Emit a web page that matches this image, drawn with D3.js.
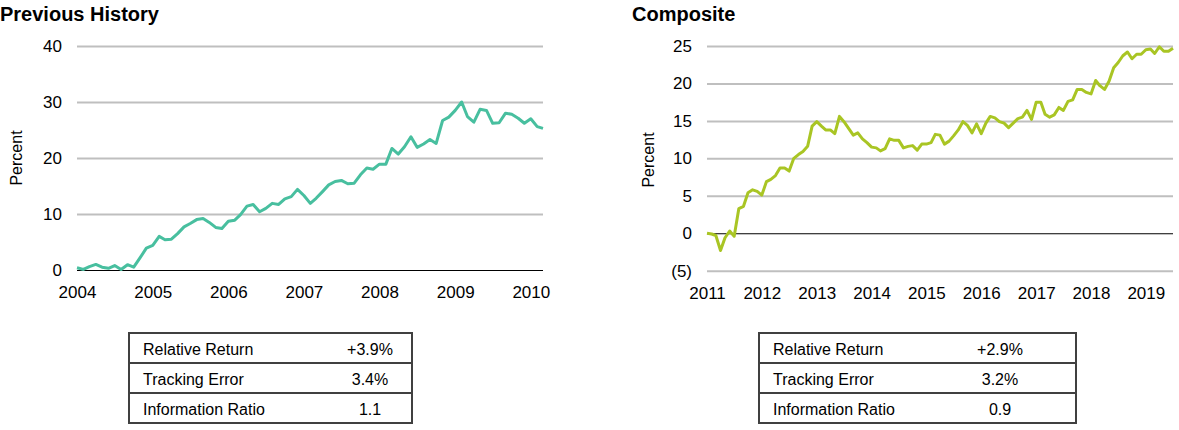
<!DOCTYPE html>
<html>
<head>
<meta charset="utf-8">
<script src="https://cdn.jsdelivr.net/npm/d3@7"></script>
<style>
  body { margin: 0; background: #fff; }
  svg { font-family: Arial, 'Liberation Sans', sans-serif; }
  .title { font-size: 20px; font-weight: bold; }
  .axis text { font-size: 17px; fill: #000; }
  .y-label { font-size: 16px; }
  .stat { font-size: 16px; }
</style>
</head>
<body>
<svg width="1179" height="430"></svg>
<script>
(function(d3) {
  'use strict';

  // Previous History, monthly from Jan 2004 to Mar 2010 (percent).
  const historyValues = [
    0.4, 0.1, 0.6, 1.0, 0.5, 0.3, 0.8, 0.1, 0.95, 0.5, 2.2, 3.9,
    4.4, 6.0, 5.4, 5.5, 6.5, 7.7, 8.3, 9.0, 9.2, 8.5, 7.6, 7.4,
    8.7, 8.9, 9.9, 11.4, 11.7, 10.4, 11.0, 11.9, 11.7, 12.7, 13.1, 14.4,
    13.3, 11.9, 12.8, 14.0, 15.2, 15.8, 16.0, 15.4, 15.5, 17.0, 18.2, 18.0,
    18.9, 18.9, 21.7, 20.7, 22.0, 23.8, 21.9, 22.5, 23.3, 22.6, 26.7, 27.3,
    28.5, 30.0, 27.4, 26.4, 28.7, 28.5, 26.2, 26.3, 28.0, 27.8, 27.1, 26.2,
    27.0, 25.6, 25.3,
  ];

  // Composite, monthly from Jan 2011 to Jul 2019 (percent).
  const compositeValues = [
    0.0, -0.1, -0.3, -2.3, -0.6, 0.3, -0.4, 3.3, 3.6, 5.4, 5.8, 5.6,
    5.1, 6.9, 7.2, 7.7, 8.7, 8.7, 8.3, 10.0, 10.5, 10.9, 11.6, 14.3,
    14.9, 14.3, 13.8, 13.8, 13.3, 15.6, 14.9, 14.0, 13.1, 13.4, 12.6, 12.1,
    11.5, 11.4, 11.0, 11.3, 12.6, 12.4, 12.4, 11.4, 11.6, 11.7, 11.1, 11.9,
    11.9, 12.1, 13.2, 13.1, 11.9, 12.3, 13.0, 13.8, 14.9, 14.4, 13.4, 14.6,
    13.3, 14.7, 15.6, 15.4, 14.9, 14.7, 14.1, 14.7, 15.3, 15.5, 16.4, 15.2,
    17.5, 17.5, 15.9, 15.5, 15.8, 16.8, 16.4, 17.6, 17.8, 19.2, 19.2, 18.8,
    18.6, 20.4, 19.7, 19.2, 20.3, 22.1, 22.8, 23.7, 24.2, 23.3, 23.9, 23.9,
    24.5, 24.6, 24.0, 24.9, 24.3, 24.3, 24.7,
  ];

  const historyYears = [2004, 2005, 2006, 2007, 2008, 2009, 2010];
  const compositeYears = [2011, 2012, 2013, 2014, 2015, 2016, 2017, 2018, 2019];
  const historyYTicks = [0, 10, 20, 30, 40];
  const compositeYTicks = [-5, 0, 5, 10, 15, 20, 25];

  const statLabels = ['Relative Return', 'Tracking Error', 'Information Ratio'];
  const historyStats = ['+3.9%', '3.4%', '1.1'];
  const compositeStats = ['+2.9%', '3.2%', '0.9'];

  const svg = d3.select('svg');

  function toSeries(startYear, values) {
    return values.map(function(v, i) {
      return {date: new Date(startYear, i, 1), value: v};
    });
  }

  // Negative numbers shown in accounting style, e.g. (5)
  function yFormat(d) {
    return d < 0 ? '(' + Math.abs(d) + ')' : d;
  }

  function render(opts) {
    const data = toSeries(opts.years[0], opts.values);
    const g = svg.append('g');

    const xScale = d3.scaleTime().
        domain(d3.extent(data, function(d) {
          return d.date;
        })).
        range([opts.left, opts.right]);
    const yScale = d3.scaleLinear().
        domain(d3.extent(opts.yTicks)).
        range([opts.bottom, opts.top]);

    g.append('text').
        attr('class', 'title').
        attr('x', opts.titleX).
        attr('y', 21).
        text(opts.title);

    // Gridlines + y tick labels
    const yAxisG = g.append('g').
        attr('class', 'axis').
        attr('transform', `translate(${opts.left},0)`).
        call(d3.axisLeft(yScale).
            tickValues(opts.yTicks).
            tickSize(-(opts.right - opts.left)).
            tickPadding(15).
            tickFormat(yFormat));
    yAxisG.select('.domain').remove();
    yAxisG.selectAll('.tick line').
        attr('stroke', function(d) {
          return d === 0 ? '#000' : '#bfbfbf';
        }).
        attr('stroke-width', function(d) {
          return d === 0 ? 1 : 2;
        });
    // keep the zero line on top of the gray ones
    yAxisG.selectAll('.tick').filter(function(d) {
      return d === 0;
    }).raise();

    g.append('text').
        attr('class', 'y-label').
        attr('transform', `translate(${opts.labelX},${opts.labelY}) rotate(-90)`).
        attr('text-anchor', 'middle').
        text('Percent');

    const xAxisG = g.append('g').
        attr('class', 'axis').
        attr('transform', `translate(0,${opts.bottom})`).
        call(d3.axisBottom(xScale).
            tickValues(opts.years.map(function(y) {
              return new Date(y, 0, 1);
            })).
            tickSize(0).
            tickPadding(16).
            tickFormat(d3.timeFormat('%Y')));
    xAxisG.select('.domain').remove();

    const line = d3.line().
        x(function(d) {
          return xScale(d.date);
        }).
        y(function(d) {
          return yScale(d.value);
        });

    g.append('path').
        datum(data).
        attr('fill', 'none').
        attr('stroke', opts.color).
        attr('stroke-width', 3).
        attr('stroke-linejoin', 'round').
        attr('d', line);

    // Stats table under the chart
    const rowH = 30;
    const tableG = g.append('g').
        attr('transform', `translate(${opts.tableX},${opts.tableY})`);
    const rows = tableG.selectAll('g.row').
        data(statLabels).
        enter().
        append('g').
        attr('class', 'row').
        attr('transform', function(d, i) {
          return `translate(0,${i * rowH})`;
        });
    rows.append('rect').
        attr('width', opts.tableW).
        attr('height', rowH).
        attr('fill', 'none').
        attr('stroke', '#404040').
        attr('stroke-width', 2);
    rows.append('text').
        attr('class', 'stat').
        attr('x', 14).
        attr('y', 22).
        text(function(d) {
          return d;
        });
    rows.append('text').
        attr('class', 'stat').
        attr('x', 241).
        attr('y', 22).
        attr('text-anchor', 'middle').
        text(function(d, i) {
          return opts.stats[i];
        });
  }

  render({
    title: 'Previous History',
    values: historyValues,
    years: historyYears,
    yTicks: historyYTicks,
    stats: historyStats,
    color: '#48bf9f',
    titleX: 0,
    left: 77, right: 543, top: 46, bottom: 270,
    labelX: 22, labelY: 158,
    tableX: 129, tableY: 333, tableW: 283,
  });

  render({
    title: 'Composite',
    values: compositeValues,
    years: compositeYears,
    yTicks: compositeYTicks,
    stats: compositeStats,
    color: '#a9c524',
    titleX: 632,
    left: 707, right: 1173, top: 46, bottom: 270.7,
    labelX: 654, labelY: 160,
    tableX: 759, tableY: 333, tableW: 317,
  });
}(d3));
</script>
</body>
</html>
